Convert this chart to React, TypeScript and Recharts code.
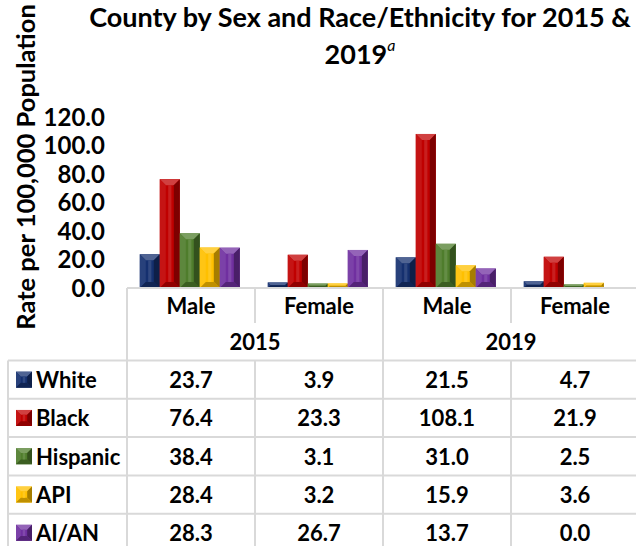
import React from "react";
import { Bar, BarChart, Customized, XAxis, YAxis } from "recharts";

const categories = ["Male", "Female", "Male", "Female"];
const years = ["2015", "2019"];
const white = [23.7, 3.9, 21.5, 4.7];
const black = [76.4, 23.3, 108.1, 21.9];
const hispanic = [38.4, 3.1, 31.0, 2.5];
const api = [28.4, 3.2, 15.9, 3.6];
const aian = [28.3, 26.7, 13.7, 0.0];
const yTicks = [0, 20, 40, 60, 80, 100, 120];

const series = [
  { key: "white", name: "White", color: "#15306f", values: white },
  { key: "black", name: "Black", color: "#c00000", values: black },
  { key: "hispanic", name: "Hispanic", color: "#4f7d2c", values: hispanic },
  { key: "api", name: "API", color: "#ffc000", values: api },
  { key: "aian", name: "AI/AN", color: "#7030a0", values: aian },
];

const data = categories.map((sex, i) => {
  const row: Record<string, any> = { id: `${years[Math.floor(i / 2)]} ${sex}`, sex };
  series.forEach((s) => (row[s.key] = s.values[i]));
  return row;
});

const FONT = "Lato, 'Open Sans', sans-serif";
const LINE = "#d9d9d9";
const ROW_TOP = 360.5;
const ROW_H = 38.3;

function shade(hex: string, f: number) {
  const n = parseInt(hex.slice(1), 16);
  const ch = [n >> 16, (n >> 8) & 255, n & 255].map((c) =>
    f > 0 ? Math.round(c + (255 - c) * f) : Math.round(c * (1 + f))
  );
  return `rgb(${ch.join(",")})`;
}

function Bevel({ x, y, width, height, color }: any) {
  if (!height || height <= 0) return null;
  const b = Math.min(width * 0.3, height / 2);
  const r = x + width;
  const btm = y + height;
  return (
    <g>
      <rect x={x} y={y} width={width} height={height} fill={color} />
      <polygon points={`${x},${y} ${r},${y} ${r - b},${y + b} ${x + b},${y + b}`} fill={shade(color, 0.25)} />
      <polygon points={`${x},${y} ${x + b},${y + b} ${x + b},${btm - b} ${x},${btm}`} fill={shade(color, 0.08)} />
      <polygon points={`${r},${y} ${r - b},${y + b} ${r - b},${btm - b} ${r},${btm}`} fill={shade(color, -0.35)} />
      <polygon points={`${x},${btm} ${x + b},${btm - b} ${r - b},${btm - b} ${r},${btm}`} fill={shade(color, -0.25)} />
      <rect x={x + width * 0.42} y={y + b} width={width * 0.16} height={Math.max(0, height - 2 * b)} fill={shade(color, 0.12)} />
    </g>
  );
}

function TableTick(props: any) {
  const { x, y, payload } = props;
  const i = payload.index;
  const bw = props.width && props.visibleTicksCount ? props.width / props.visibleTicksCount : 128;
  const xl = x - bw / 2;
  const xr = x + bw / 2;
  const txt = { fontFamily: FONT, fontWeight: 700, fontSize: 22, fill: "#000" } as const;
  const rows = series.map((s, k) => ROW_TOP + ROW_H * k + ROW_H / 2);
  const lines = [0, 1, 2, 3, 4, 5].map((k) => ROW_TOP + ROW_H * k);
  return (
    <g>
      <line x1={xl} x2={xr} y1={y} y2={y} stroke={LINE} strokeWidth={2} />
      <line x1={xl} x2={xl} y1={y} y2={i % 2 === 0 ? ROW_TOP : y + 35} stroke={LINE} strokeWidth={2} />
      <line x1={xl} x2={xl} y1={ROW_TOP} y2={560} stroke={LINE} strokeWidth={2} />
      {lines.map((ly) => (
        <line key={ly} x1={xl} x2={xr} y1={ly} y2={ly} stroke={LINE} strokeWidth={2} />
      ))}
      <text x={x} y={y + 17} textAnchor="middle" dominantBaseline="central" {...txt}>
        {payload.value.split(" ")[1]}
      </text>
      {i % 2 === 0 && (
        <text x={xr} y={y + 53} textAnchor="middle" dominantBaseline="central" {...txt}>
          {years[i / 2]}
        </text>
      )}
      {series.map((s, k) => (
        <text key={s.key} x={x} y={rows[k]} textAnchor="middle" dominantBaseline="central" {...txt}>
          {s.values[i].toFixed(1)}
        </text>
      ))}
      {i === 0 && (
        <g>
          <line x1={8} x2={8} y1={ROW_TOP} y2={560} stroke={LINE} strokeWidth={2} />
          {lines.map((ly) => (
            <line key={ly} x1={8} x2={xl} y1={ly} y2={ly} stroke={LINE} strokeWidth={2} />
          ))}
          {series.map((s, k) => (
            <g key={s.key}>
              <Bevel x={16} y={rows[k] - 8} width={16} height={16} color={s.color} />
              <text x={36} y={rows[k]} dominantBaseline="central" {...txt}>
                {s.name}
              </text>
            </g>
          ))}
        </g>
      )}
    </g>
  );
}

function Titles() {
  return (
    <g fontFamily={FONT} fontWeight={700} fill="#000">
      <text x={360} y={16} textAnchor="middle" dominantBaseline="central" fontSize={27}>
        County by Sex and Race/Ethnicity for 2015 &amp;
      </text>
      <text x={360} y={53} textAnchor="middle" dominantBaseline="central" fontSize={27}>
        2019
        <tspan fontStyle="italic" fontWeight={400} fontSize={16} dy={-9}>
          a
        </tspan>
      </text>
      <text
        x={25}
        y={167}
        textAnchor="middle"
        dominantBaseline="central"
        fontSize={25.5}
        transform="rotate(-90, 25, 167)"
      >
        Rate per 100,000 Population
      </text>
    </g>
  );
}

export default function App() {
  return (
    <div style={{ position: "absolute", left: 0, top: 0, width: 636, height: 546, overflow: "hidden", background: "#fff" }}>
      <BarChart
        width={640}
        height={546}
        data={data}
        margin={{ top: 117, right: 1, left: 0, bottom: 0 }}
        barCategoryGap="10%"
        barGap={0}
      >
        <YAxis
          width={127}
          domain={[0, 120]}
          ticks={yTicks}
          interval={0}
          axisLine={false}
          tickLine={false}
          tickSize={0}
          tickMargin={22}
          tickFormatter={(v: number) => v.toFixed(1)}
          tick={{ fill: "#000", fontSize: 24, fontWeight: 700, fontFamily: FONT }}
        />
        <XAxis
          dataKey="id"
          height={258}
          interval={0}
          axisLine={false}
          tickLine={false}
          tickSize={0}
          tickMargin={0}
          tick={<TableTick />}
        />
        {series.map((s) => (
          <Bar
            key={s.key}
            dataKey={s.key}
            name={s.name}
            fill={s.color}
            isAnimationActive={false}
            shape={(p: any) => <Bevel {...p} color={s.color} />}
          />
        ))}
        <Customized component={Titles} />
      </BarChart>
    </div>
  );
}
